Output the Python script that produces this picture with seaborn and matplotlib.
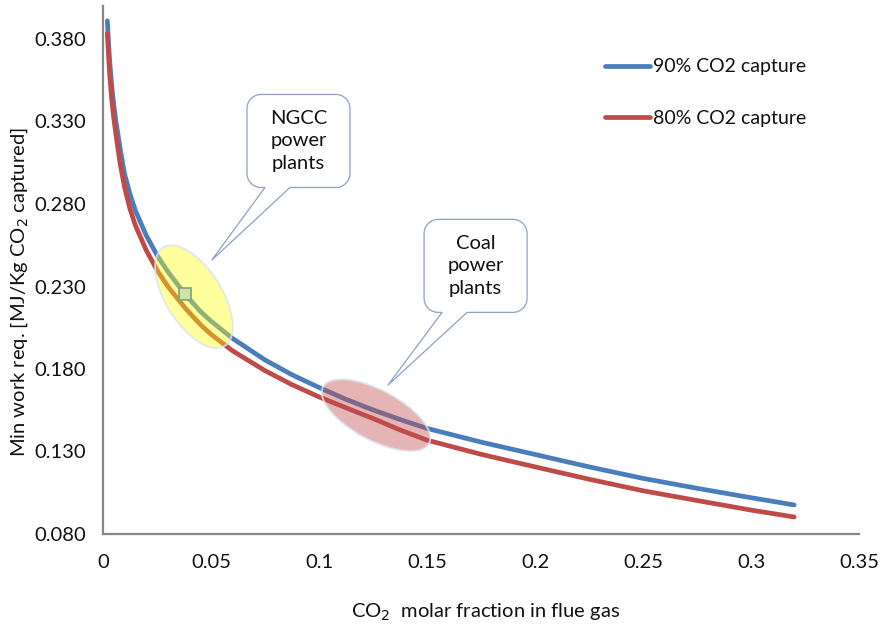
import numpy as np
import pandas as pd
import matplotlib
matplotlib.use("Agg")
import matplotlib.pyplot as plt
import seaborn as sns
from matplotlib.patches import Ellipse, PathPatch
from matplotlib.path import Path
from matplotlib.transforms import ScaledTranslation

# ---------------- data ----------------
co2_fraction = [0.002, 0.003, 0.004, 0.005, 0.006, 0.008, 0.010, 0.0125, 0.015,
                0.020, 0.025, 0.030, 0.038, 0.045, 0.050, 0.060, 0.075, 0.0875,
                0.100, 0.1125, 0.125, 0.1375, 0.150, 0.175, 0.200, 0.225, 0.250,
                0.275, 0.300, 0.320]
work_90 = [0.391, 0.368, 0.352, 0.340, 0.330, 0.313, 0.298, 0.286, 0.276,
           0.261, 0.249, 0.239, 0.2253, 0.215, 0.209, 0.1985, 0.1855, 0.1765,
           0.1688, 0.1616, 0.1552, 0.1494, 0.1440, 0.1357, 0.1282, 0.1207, 0.1137,
           0.1077, 0.1020, 0.0976]
work_80 = [0.3835, 0.360, 0.344, 0.332, 0.322, 0.304, 0.290, 0.277, 0.267,
           0.252, 0.240, 0.230, 0.217, 0.207, 0.201, 0.191, 0.179, 0.1705,
           0.1631, 0.1565, 0.1500, 0.1431, 0.1369, 0.1283, 0.1207, 0.1132, 0.1062,
           0.1003, 0.0945, 0.0903]
series_labels = ["90% CO2 capture", "80% CO2 capture"]
highlight_fraction = 0.038

x_ticks = [0, 0.05, 0.1, 0.15, 0.2, 0.25, 0.3, 0.35]
x_tick_labels = ["0", "0.05", "0.1", "0.15", "0.2", "0.25", "0.3", "0.35"]
y_ticks = [0.08, 0.13, 0.18, 0.23, 0.28, 0.33, 0.38]
y_tick_labels = ["0.080", "0.130", "0.180", "0.230", "0.280", "0.330", "0.380"]

ngcc_text = "NGCC\npower\nplants"
coal_text = "Coal\npower\nplants"
ngcc_region = (0.0421, 0.2238)      # centre of highlighted ellipse
coal_region = (0.1264, 0.1520)
ngcc_box = (0.0905, 0.3182)          # callout centre
coal_box = (0.1725, 0.2425)
ngcc_tip = (0.0503, 0.2459)
coal_tip = (0.1319, 0.1702)

# ---------------- style ----------------
sns.set_style("white")
plt.rcParams['font.family'] = ['Lato', 'DejaVu Sans']
BLUE = "#4A7EBB"
RED = "#BE4B48"
GREY = "#868686"
TXT = "#111111"

fig = plt.figure(figsize=(8.8, 6.27), dpi=100)
ax = fig.add_axes([103 / 880, 93 / 627, 756 / 880, 528 / 627])

df = pd.DataFrame({
    "x": co2_fraction + co2_fraction,
    "y": work_90 + work_80,
    "series": [series_labels[0]] * len(co2_fraction) + [series_labels[1]] * len(co2_fraction),
})
sns.lineplot(data=df, x="x", y="y", hue="series", hue_order=series_labels,
             palette=[BLUE, RED], linewidth=3.4, ax=ax, sort=True,
             solid_capstyle="round", solid_joinstyle="round", zorder=3)

ax.set_xlim(0, 0.35)
ax.set_ylim(0.08, 0.40)
ax.set_xticks(x_ticks)
ax.set_xticklabels(x_tick_labels)
ax.set_yticks(y_ticks)
ax.set_yticklabels(y_tick_labels)

for s in ["top", "right"]:
    ax.spines[s].set_visible(False)
for s in ["left", "bottom"]:
    ax.spines[s].set_color(GREY)
    ax.spines[s].set_linewidth(1.6)
ax.tick_params(axis="both", direction="out", length=4.5, width=1.3, color=GREY,
               labelsize=14.5, pad=8, labelcolor=TXT)
ax.tick_params(axis="x", pad=10)

ax.set_xlabel("CO$_2$  molar fraction in flue gas", fontsize=14.5, color=TXT)
ax.set_ylabel("Min work req. [MJ/Kg CO$_2$ captured]", fontsize=14.5, color=TXT)
ax.xaxis.set_label_coords((486 - 103) / 756, (534 - 602) / 528)
ax.yaxis.set_label_coords((30 - 103) / 756, (534 - 292) / 528)

handles, labels = ax.get_legend_handles_labels()
leg = ax.legend(handles, labels, loc="center left",
                bbox_to_anchor=((605 - 103) / 756, (534 - 92.5) / 528),
                frameon=False, fontsize=14, handlelength=2.3, handletextpad=0.15,
                labelspacing=1.75, borderpad=0, borderaxespad=0)
for t in leg.get_texts():
    t.set_color(TXT)
for line in leg.get_lines():
    line.set_linewidth(3.4)
    line.set_solid_capstyle("round")

dpi = fig.dpi


def region(center, a_px, b_px, angle, color):
    tr = fig.dpi_scale_trans + ScaledTranslation(center[0], center[1], ax.transData)
    e = Ellipse((0, 0), 2 * a_px / dpi, 2 * b_px / dpi, angle=angle,
                transform=tr, facecolor=color, edgecolor="none", zorder=4)
    ax.add_patch(e)
    e2 = Ellipse((0, 0), 2 * a_px / dpi, 2 * b_px / dpi, angle=angle,
                 transform=tr, facecolor="none", edgecolor=(0.86, 0.89, 0.94, 0.8),
                 linewidth=1.4, zorder=4)
    ax.add_patch(e2)


region(ngcc_region, 58, 28, -58, (1.0, 1.0, 0.05, 0.40))
region(coal_region, 60, 25, -28, (0.76, 0.30, 0.30, 0.42))

idx = co2_fraction.index(highlight_fraction)
ax.plot([co2_fraction[idx]], [work_90[idx]], marker="s", ms=8, mfc="#D2E3A9",
        mec="#7BA66E", mew=1.2, zorder=6, linestyle="none")


def callout(center, tip, text, w=103, h=93, r=14):
    c = ax.transData.transform(center)
    t = ax.transData.transform(tip)
    tx, ty = t - c
    w2, h2 = w / 2, h / 2
    verts = [(-w2 + 43, -h2)]

    def arc(cx, cy, a0, a1):
        th = np.radians(np.linspace(a0, a1, 10))
        return [(cx + r * np.cos(v), cy + r * np.sin(v)) for v in th]

    verts += arc(w2 - r, -h2 + r, -90, 0)
    verts += arc(w2 - r, h2 - r, 0, 90)
    verts += arc(-w2 + r, h2 - r, 90, 180)
    verts += arc(-w2 + r, -h2 + r, 180, 270)
    verts += [(-w2 + 18, -h2), (tx, ty), (-w2 + 43, -h2)]
    verts = [(vx / dpi, vy / dpi) for vx, vy in verts]
    codes = [Path.MOVETO] + [Path.LINETO] * (len(verts) - 2) + [Path.CLOSEPOLY]
    tr = fig.dpi_scale_trans + ScaledTranslation(center[0], center[1], ax.transData)
    ax.add_patch(PathPatch(Path(verts, codes), transform=tr, facecolor="white",
                           edgecolor="#8CA2C4", linewidth=0.9, zorder=7))
    ax.text(center[0], center[1], text, ha="center", va="center", fontsize=14.5,
            linespacing=1.4, color=TXT, zorder=8)


callout(ngcc_box, ngcc_tip, ngcc_text)
callout(coal_box, coal_tip, coal_text)

fig.savefig("out.png", dpi=100)
